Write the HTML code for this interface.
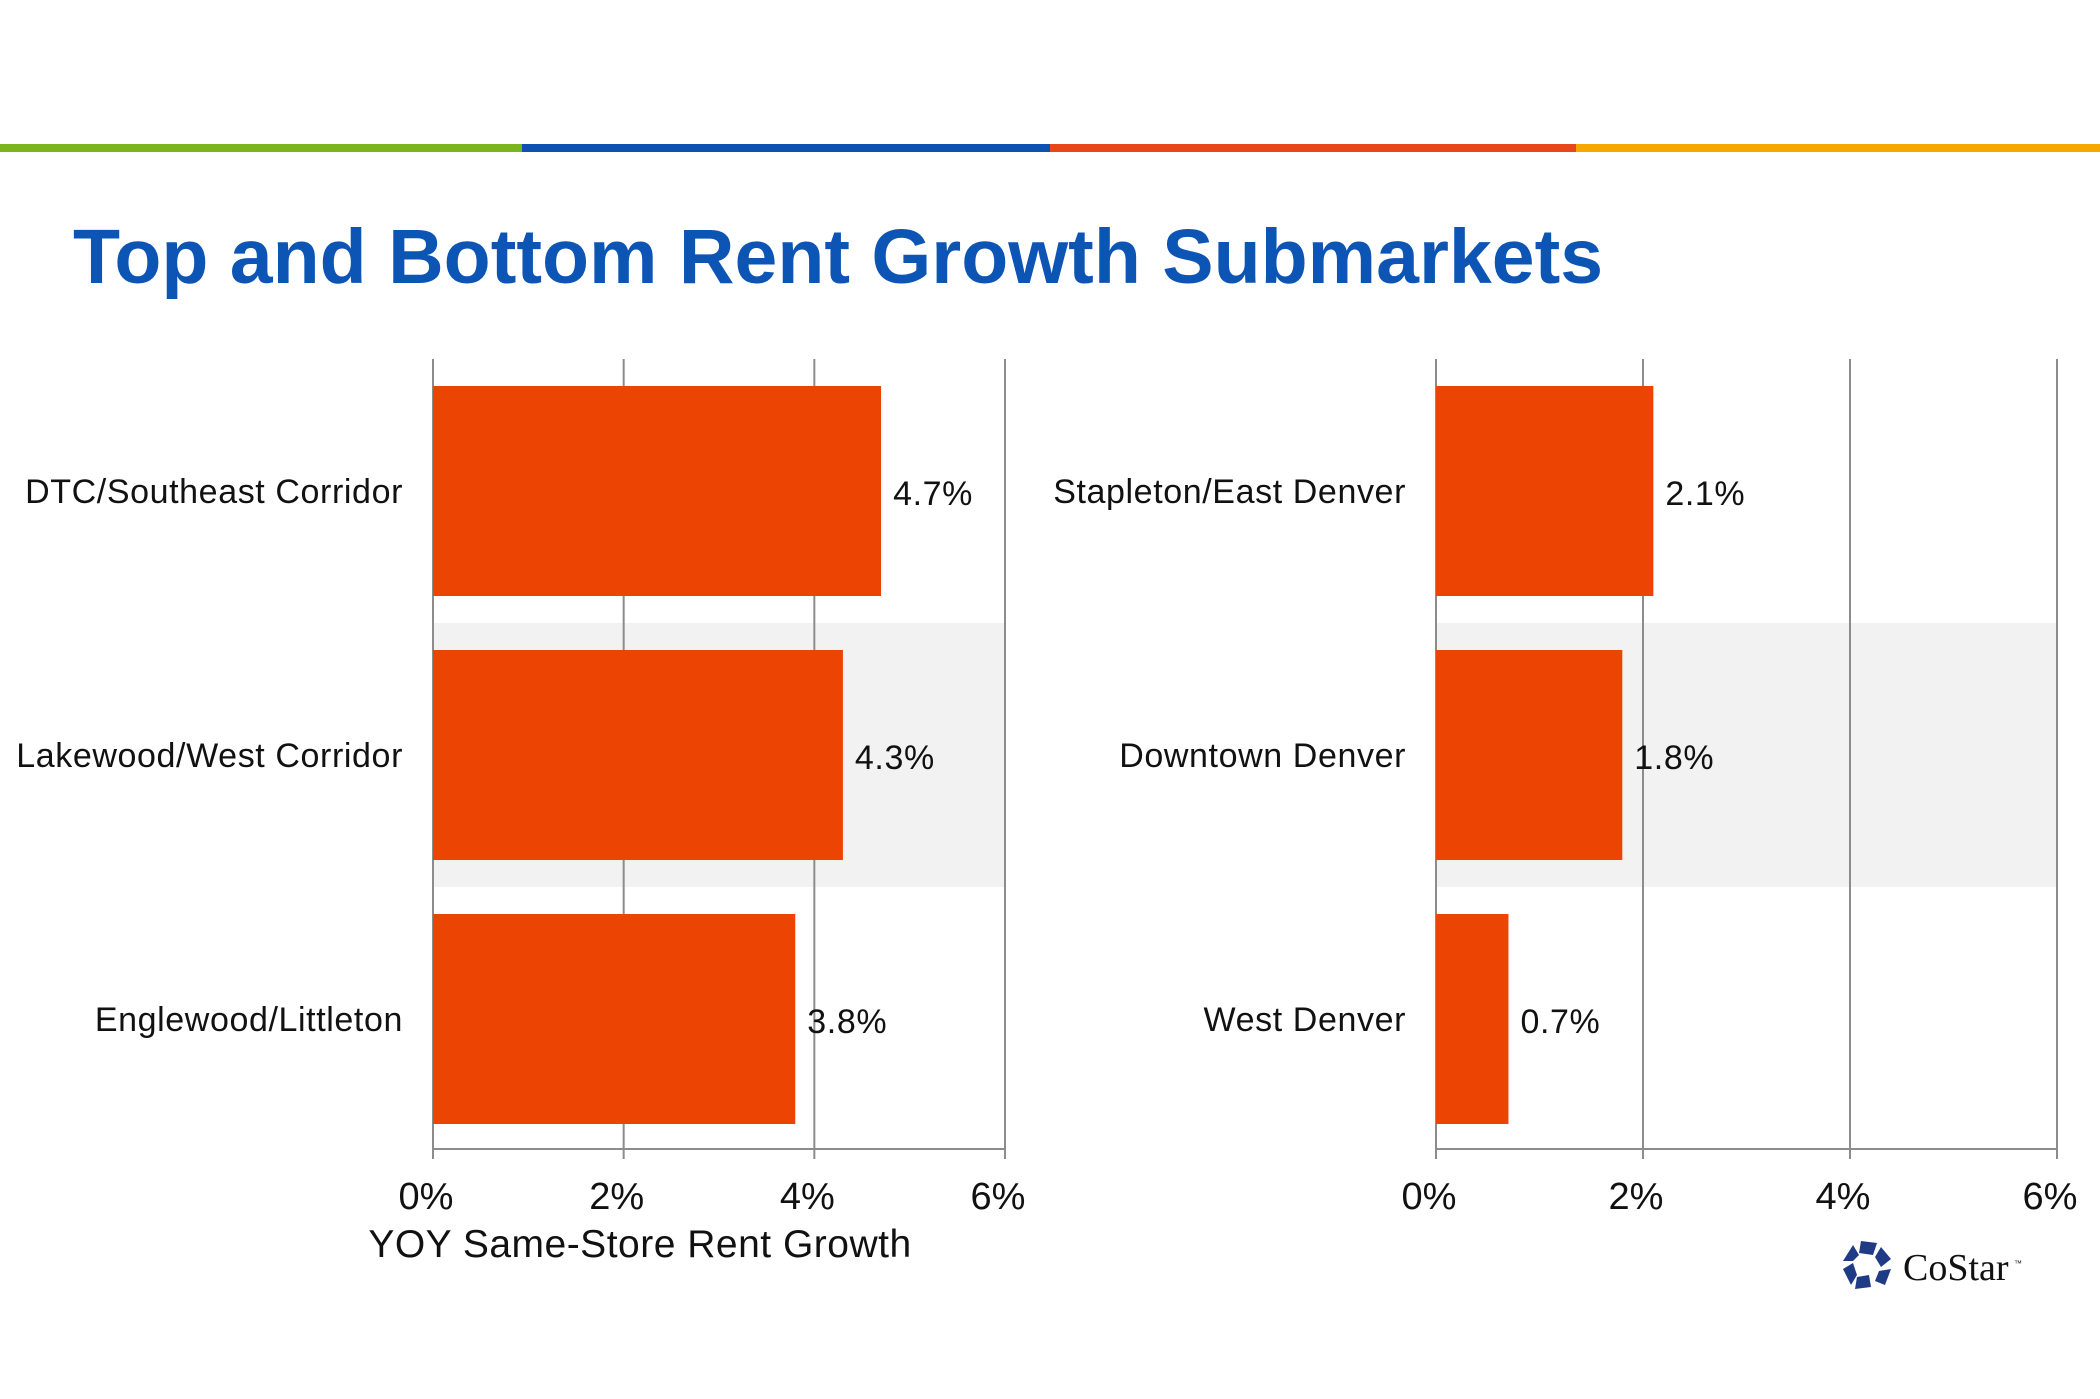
<!DOCTYPE html>
<html><head><meta charset="utf-8">
<style>
html,body{margin:0;padding:0;background:#fff;}
svg{display:block;font-family:"Liberation Sans",Arial,sans-serif;}
</style></head>
<body>
<svg id="chart" width="2100" height="1399" viewBox="0 0 2100 1399" xmlns="http://www.w3.org/2000/svg">
  <rect x="0" y="144" width="522" height="8" fill="#7ab51d"/>
  <rect x="522" y="144" width="528" height="8" fill="#0d52b0"/>
  <rect x="1050" y="144" width="526" height="8" fill="#e8461b"/>
  <rect x="1576" y="144" width="524" height="8" fill="#f6a800"/>
  <text x="73" y="283" font-size="77" font-weight="bold" fill="#0d55b5">Top and Bottom Rent Growth Submarkets</text>
  <g id="left"></g>
  <g id="right"></g>
  <text x="640" y="1257" font-size="39" fill="#111" text-anchor="middle" letter-spacing="0.5">YOY Same-Store Rent Growth</text>
  <g>
    <g fill="#1f3b85" transform="translate(1867,1265)">
      <polygon points="-6,-24 10,-22 6,-10 -8,-12"/>
      <polygon points="14,-18 24,-6 14,2 8,-8"/>
      <polygon points="24,4 18,20 8,16 12,6"/>
      <polygon points="4,22 -12,24 -10,12 2,10"/>
      <polygon points="-16,20 -24,4 -14,-2 -10,10"/>
      <polygon points="-24,-4 -14,-20 -8,-10 -14,-4"/>
    </g>
    <text x="1903" y="1280" font-family="Liberation Serif,serif" font-size="38" fill="#111">CoStar</text>
    <text x="2014" y="1266" font-size="8" fill="#111">™</text>
  </g>
</svg>
<script>
const leftCategories = ["DTC/Southeast Corridor","Lakewood/West Corridor","Englewood/Littleton"];
const leftValues = [4.7, 4.3, 3.8];
const rightCategories = ["Stapleton/East Denver","Downtown Denver","West Denver"];
const rightValues = [2.1, 1.8, 0.7];
const tickValues = [0, 2, 4, 6];
const tickLabels = ["0%","2%","4%","6%"];

const NS = "http://www.w3.org/2000/svg";
function mk(parent, tag, attrs, text){
  const e = document.createElementNS(NS, tag);
  for (const k in attrs) e.setAttribute(k, attrs[k]);
  if (text !== undefined) e.textContent = text;
  parent.appendChild(e);
  return e;
}
function drawChart(gid, cats, vals, x0, x1, labelRight, prefix){
  const g = document.getElementById(gid);
  const top = 359, bottom = 1149, step = 264, first = 386, bh = 210;
  const xs = v => x0 + (x1 - x0) * v / 6;
  const band = mk(g, "rect", {x: x0, y: first + step - 27, width: x1 - x0, height: step, fill: "#f2f2f2"});
  
  
  tickValues.forEach((t, i) => {
    const l = mk(g, "line", {x1: xs(t), x2: xs(t), y1: top, y2: bottom + 10, stroke: "#8c8c8c", "stroke-width": 2});
    
    
    const tl = mk(g, "text", {x: xs(t) - 7, y: 1209, "font-size": 38, "text-anchor": "middle", fill: "#111"}, tickLabels[i]);
    
    
  });
  const ax = mk(g, "line", {x1: x0, x2: x1, y1: bottom, y2: bottom, stroke: "#8c8c8c", "stroke-width": 2});
  
  
  cats.forEach((c, i) => {
    const y = first + i * step;
    const b = mk(g, "rect", {x: x0, y: y, width: xs(vals[i]) - x0, height: bh, fill: "#ec4403"});
    
    
    const cl = mk(g, "text", {x: labelRight, y: y + bh / 2 + 12, "font-size": 34, "text-anchor": "end", fill: "#111", "letter-spacing": "0.6"}, c);
    
    
    const vl = mk(g, "text", {x: xs(vals[i]) + 12, y: y + bh / 2 + 14, "font-size": 34, fill: "#111", "letter-spacing": "0.6"}, vals[i].toFixed(1) + "%");
    
    
  });
}
drawChart("left", leftCategories, leftValues, 433, 1005, 403, "left");
drawChart("right", rightCategories, rightValues, 1436, 2057, 1406, "right");
</script>
</body></html>
